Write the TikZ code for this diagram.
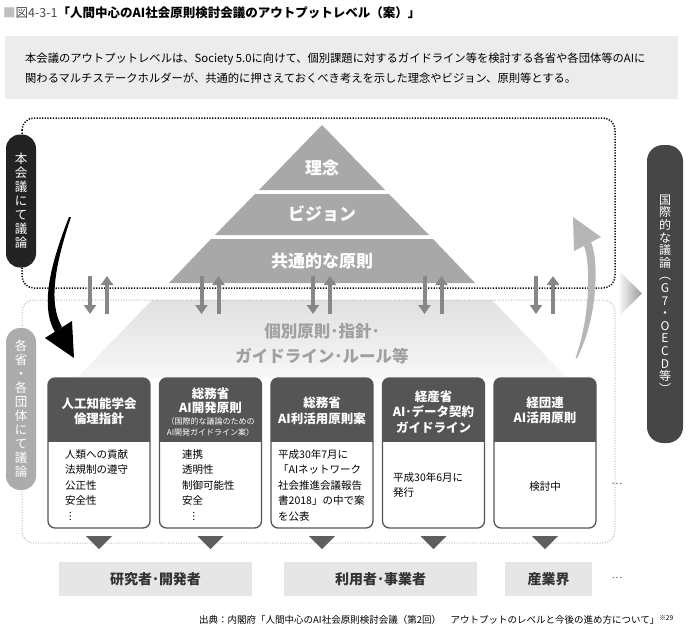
\documentclass[tikz,border=0pt]{standalone}
\usepackage{fontspec}
\setmainfont{Noto Sans CJK JP}
\usepackage{xcolor}
\usepackage{tikz}
\usetikzlibrary{arrows.meta}

\definecolor{entete}{RGB}{85,85,85}
\definecolor{pyramide}{RGB}{168,168,168}
\definecolor{gris texte}{RGB}{160,160,160}
\definecolor{fleche gris}{RGB}{135,135,135}
\definecolor{fond desc}{RGB}{236,236,236}
\definecolor{fond categ}{RGB}{230,230,230}
\definecolor{pilule noire}{RGB}{35,35,35}
\definecolor{pilule grise}{RGB}{172,172,172}
\definecolor{pilule droite}{RGB}{70,70,70}
\definecolor{courbe grise}{RGB}{182,182,182}

\begin{document}
\begin{tikzpicture}[x=1pt, y=-1pt,
    pointille/.style={dash pattern=on 1.2pt off 1.5pt, line width=1.5pt},
    gris pointille/.style={draw=gray!55, dash pattern=on 1pt off 1.6pt, line width=1pt},
    pilule/.style={rounded corners=14pt, minimum width=30pt, text=white, align=center, inner sep=0pt, font=\fontsize{12.5}{14}\selectfont},
    etage/.style={text=white, font=\fontsize{17}{20}\selectfont\bfseries},
    cadre/.style={draw=entete, line width=1.3pt, rounded corners=7pt},
    entete txt/.style={text=white, align=center, font=\fontsize{12.5}{15.5}\selectfont\bfseries},
    corps/.style={anchor=north west, align=left, inner sep=0pt, font=\fontsize{10.5}{15.5}\selectfont},
    fleche/.style={-{Triangle[width=12pt,length=9pt]}, line width=4pt, fleche gris},
    public/.style={fill=fond categ, minimum height=34pt, text=black!80, font=\fontsize{14}{16}\selectfont\bfseries},
  ]
  \useasboundingbox[fill=white] (0,0) rectangle (689,635);

  % titre et resume
  \node[anchor=west, inner sep=0pt, font=\fontsize{12.5}{14}\selectfont] (titre) at (3,13)
    {\textcolor{gray!50}{■}\textcolor{black!70}{図4-3-1}\textbf{「人間中心のAI社会原則検討会議のアウトプットレベル（案）」}};
  \node[fill=fond desc, minimum width=673pt, minimum height=63pt, inner sep=0pt, anchor=north west] (resume) at (5,36) {};
  \node[anchor=west, align=left, inner sep=0pt, font=\fontsize{11.3}{20}\selectfont] (texte) at (25,68)
    {本会議のアウトプットレベルは、Society 5.0に向けて、個別課題に対するガイドライン等を検討する各省や各団体等のAIに\\
     関わるマルチステークホルダーが、共通的に押さえておくべき考えを示した理念やビジョン、原則等とする。};

  % pyramide
  \shade[top color=gray!24, bottom color=gray!6] (152,300) -- (492,300) -- (567,378) -- (77,378) -- cycle;
  \node[text=gris texte, align=center, font=\fontsize{16.5}{25}\selectfont\bfseries] (individuel) at (322,344)
    {個別原則･指針･\\ガイドライン･ルール等};
  \fill[pyramide] (322,125) -- (385,190) -- (259,190) -- cycle;
  \fill[pyramide] (255,194) -- (389,194) -- (429,235) -- (215,235) -- cycle;
  \fill[pyramide] (211,239) -- (433,239) -- (475,283) -- (169,283) -- cycle;
  \node[etage] (rinen) at (322,168) {理念};
  \node[etage] (vision) at (322,214) {ビジョン};
  \node[etage] (gensoku) at (322,261) {共通的な原則};

  % les deux cadres
  \draw[pointille, rounded corners=12pt] (22,118) rectangle (615,288);
  \draw[gris pointille, rounded corners=12pt] (22,300) rectangle (615,543);

  \node[pilule, fill=pilule noire, minimum height=133pt] (honkaigi) at (21,201)
    {本\\会\\議\\に\\て\\議\\論};
  \node[pilule, fill=pilule grise, minimum height=162pt] (kakusho) at (21,409)
    {各\\省\\・\\各\\団\\体\\に\\て\\議\\論};
  \node[pilule, fill=pilule droite, minimum width=36pt, minimum height=298pt, rounded corners=16pt,
        font=\fontsize{12}{12.6}\selectfont] (kokusai) at (665,294)
    {国\\際\\的\\な\\議\\論\\︵\\G\\7\\・\\O\\E\\C\\D\\等\\︶};
  \shade[left color=gray!8, right color=gray!80] (620,272) -- (642,293.5) -- (620,315) -- cycle;

  % fleches courbes
  \fill[black] (69,217) .. controls (50,265) and (40,307) .. (55,332)
    -- (62,327) .. controls (48,303) and (55,265) .. (71,217) -- cycle;
  \fill[black] (45,338) -- (74,358) -- (72,321) -- cycle;
  \fill[courbe grise] (584,246) .. controls (591,264) and (590,318) .. (575.5,358)
    -- (577,358) .. controls (598,318) and (599,260) .. (591,242) -- cycle;
  \fill[courbe grise] (573,217) -- (601,237) -- (574,251) -- cycle;

  % les cinq documents
  \foreach \c [count=\i] in {99,210.5,322,433.5,545} {
    \path (\c-9,276) coordinate (dh\i) (\c-9,314) coordinate (db\i)
          (\c+8,314) coordinate (ub\i) (\c+8,276) coordinate (uh\i);
    \draw[fleche] (dh\i) -- (db\i);
    \draw[fleche] (ub\i) -- (uh\i);
    \begin{scope}
      \clip[rounded corners=7pt] (\c-51,378) rectangle (\c+51,528);
      \fill[white] (\c-51,378) rectangle (\c+51,528);
      \fill[entete] (\c-51,378) rectangle (\c+51,442);
    \end{scope}
    \draw[cadre] (\c-51,378) rectangle (\c+51,528);
    \fill[entete!95] (\c-13,536) -- (\c+13,536) -- (\c,549) -- cycle;
  }

  \node[entete txt] (h1) at (99,411) {人工知能学会\\倫理指針};
  \node[entete txt, font=\fontsize{12.5}{14}\selectfont\bfseries] (h2) at (210.5,412)
    {総務省\\AI開発原則\\[-2pt]{\fontsize{8}{10}\selectfont\mdseries （国際的な議論のための}\\[-3pt]
     {\fontsize{8}{10}\selectfont\mdseries AI開発ガイドライン案）}};
  \node[entete txt] (h3) at (322,411) {総務省\\AI利活用原則案};
  \node[entete txt] (h4) at (433.5,412) {経産省\\AI･データ契約\\ガイドライン};
  \node[entete txt] (h5) at (545,410.5) {経団連\\AI活用原則};

  \node[corps] (b1) at (65,449) {人類への貢献\\法規制の遵守\\公正性\\安全性\\︙};
  \node[corps] (b2) at (182,449) {連携\\透明性\\制御可能性\\安全\\\hspace{0.6em}︙};
  \node[corps] (b3) at (278,449) {平成30年7月に\\「AIネットワーク\\社会推進会議報告\\書2018」の中で案\\を公表};
  \node[corps, anchor=west] (b4) at (393,485) {平成30年6月に\\発行};
  \node[corps, anchor=center] (b5) at (545,487) {検討中};
  \node[text=black!70, font=\fontsize{10}{12}\selectfont] (suite1) at (617,484) {…};

  % destinataires
  \node[public, minimum width=193pt] (chercheurs) at (155.5,579) {研究者･開発者};
  \node[public, minimum width=193pt] (usagers) at (380.5,579) {利用者･事業者};
  \node[public, minimum width=87pt] (industrie) at (548.5,579) {産業界};
  \node[text=black!70, font=\fontsize{10}{12}\selectfont] (suite2) at (617,578) {…};

  \node[anchor=east, inner sep=0pt, font=\fontsize{9.5}{11}\selectfont] (source) at (674,620)
    {出典：内閣府「人間中心のAI社会原則検討会議（第2回）　アウトプットのレベルと今後の進め方について」\textsuperscript{※29}};
\end{tikzpicture}
\end{document}
